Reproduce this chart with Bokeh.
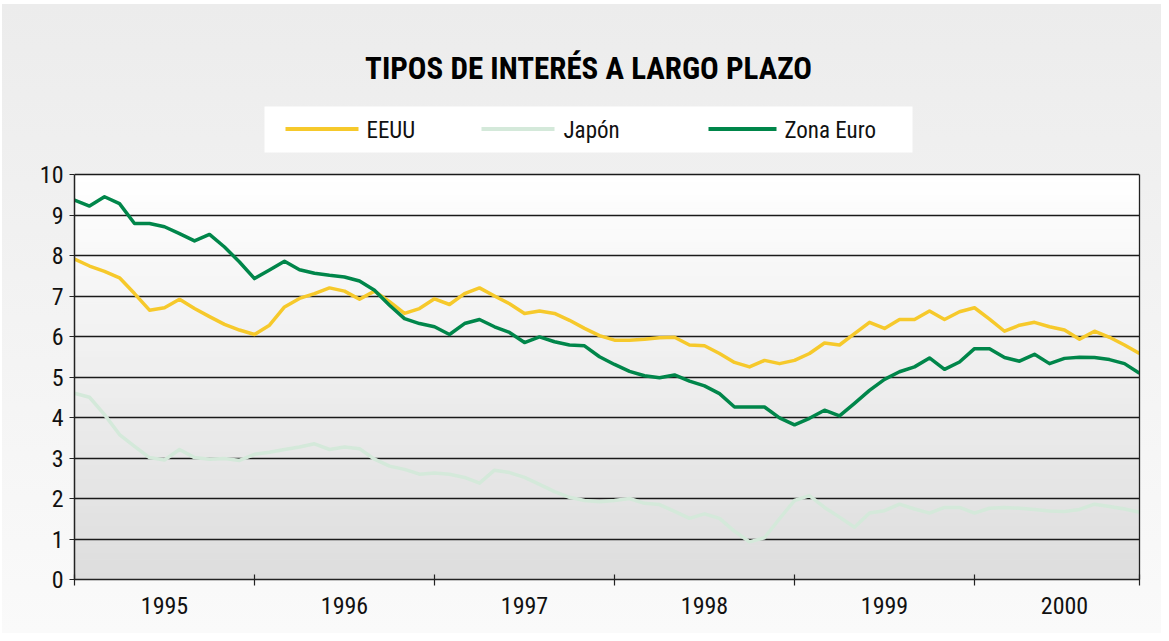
from bokeh.plotting import figure
from bokeh.models import FixedTicker, Range1d, LinearAxis
from bokeh.embed import file_html
from bokeh.resources import INLINE
from bokeh.core.properties import value

# ---------------- data (monthly, Jan 1995 - Dec 2000) ----------------
years = ["1995", "1996", "1997", "1998", "1999", "2000"]

eeuu = [7.91, 7.74, 7.61, 7.45, 7.06, 6.65, 6.71, 6.92, 6.69, 6.49, 6.30, 6.16,
        6.05, 6.28, 6.73, 6.94, 7.06, 7.20, 7.12, 6.92, 7.12, 6.86, 6.57, 6.69,
        6.93, 6.79, 7.06, 7.20, 7.00, 6.81, 6.57, 6.63, 6.57, 6.40, 6.20, 6.02,
        5.91, 5.91, 5.93, 5.97, 5.98, 5.79, 5.77, 5.58, 5.36, 5.25, 5.41, 5.33,
        5.41, 5.58, 5.84, 5.79, 6.07, 6.35, 6.20, 6.42, 6.42, 6.63, 6.42, 6.61,
        6.71, 6.43, 6.13, 6.28, 6.35, 6.24, 6.16, 5.93, 6.13, 5.98, 5.79, 5.58]

japon = [4.60, 4.50, 4.07, 3.58, 3.29, 3.01, 2.95, 3.21, 3.01, 2.97, 2.99, 2.94,
         3.09, 3.14, 3.21, 3.27, 3.35, 3.21, 3.27, 3.23, 2.97, 2.80, 2.72, 2.60,
         2.63, 2.60, 2.52, 2.38, 2.70, 2.64, 2.52, 2.35, 2.17, 2.03, 1.95, 1.92,
         1.95, 2.00, 1.88, 1.85, 1.68, 1.51, 1.62, 1.51, 1.19, 0.93, 1.03, 1.50,
         1.95, 2.07, 1.78, 1.54, 1.29, 1.64, 1.70, 1.86, 1.74, 1.64, 1.78, 1.78,
         1.64, 1.76, 1.78, 1.76, 1.73, 1.69, 1.68, 1.73, 1.86, 1.80, 1.74, 1.66]

zona_euro = [9.37, 9.22, 9.45, 9.28, 8.79, 8.79, 8.71, 8.54, 8.36, 8.52, 8.21, 7.84,
             7.43, 7.64, 7.86, 7.65, 7.56, 7.51, 7.47, 7.37, 7.14, 6.77, 6.44, 6.32,
             6.24, 6.05, 6.32, 6.42, 6.24, 6.10, 5.85, 5.99, 5.87, 5.79, 5.77, 5.50,
             5.31, 5.14, 5.03, 4.98, 5.05, 4.90, 4.78, 4.59, 4.26, 4.26, 4.26, 3.99,
             3.82, 3.98, 4.18, 4.04, 4.35, 4.67, 4.94, 5.13, 5.25, 5.47, 5.19, 5.37,
             5.70, 5.70, 5.48, 5.39, 5.56, 5.33, 5.46, 5.49, 5.48, 5.43, 5.33, 5.09]

series_names = ["EEUU", "Japón", "Zona Euro"]
series_values = [eeuu, japon, zona_euro]
series_colors = ["#f6c92b", "#d4e9da", "#00864a"]
y_ticks = [0, 1, 2, 3, 4, 5, 6, 7, 8, 9, 10]
title_text = "TIPOS DE INTERÉS A LARGO PLAZO"

months = list(range(len(eeuu)))
x_end = months[-1]
y_max = y_ticks[-1]
year_centers = [12 * k + 6 for k in range(len(years))]
year_bounds = [12 * k for k in range(len(years))] + [x_end]

FONT = "Roboto Condensed"
TITLE_FONT = "Roboto Condensed"

# ---------------- layout (pixels) ----------------
FIG_W, FIG_H = 1159, 629
MB_L, MB_R, MB_T, MB_B = 72, 22, 2, 54
frame_h = FIG_H - MB_T - MB_B           # whole frame (header + plot area)
plot_h = 405                            # pixel height of the 0..10 plot area
y_top = y_max * frame_h / plot_h        # header region lives above y=10
frame_w = FIG_W - MB_L - MB_R
px_per_x = frame_w / x_end


def hx(px):  # horizontal pixel offset from plot-area left -> x value
    return px / px_per_x


def hy(px):  # vertical pixel offset above the 0-line -> y value
    return px * y_max / plot_h


p = figure(width=FIG_W, height=FIG_H, output_backend="svg", toolbar_location=None,
           x_range=Range1d(0, x_end), y_range=Range1d(0, y_top),
           min_border_left=MB_L, min_border_right=MB_R, min_border_top=MB_T,
           min_border_bottom=MB_B)
p.border_fill_color = None
p.background_fill_color = None
p.outline_line_color = None
p.styles = {"background": "linear-gradient(180deg, #ececec 0%, #f3f3f3 50%, #fafafa 100%)",
            "margin-left": "2px", "margin-top": "4px"}

# vertical gradient of plot area (white top -> grey bottom)
nb = 60
bottoms = [y_max * k / nb for k in range(nb)]
tops = [y_max * (k + 1) / nb for k in range(nb)]
cols = []
for k in range(nb):
    g = int(round(221 + (255 - 221) * ((k + 0.5) / nb)))
    cols.append("#%02x%02x%02x" % (g, g, g))
p.quad(left=0, right=x_end, bottom=bottoms, top=tops, fill_color=cols,
       line_color=cols, line_width=1, level="image")

# grid
p.xgrid.visible = False
p.ygrid.ticker = FixedTicker(ticks=y_ticks)
p.ygrid.grid_line_color = "#1a1a1a"
p.ygrid.grid_line_width = 1.3

# y axis
ya = p.yaxis[0]
ya.ticker = FixedTicker(ticks=y_ticks)
ya.bounds = (0, y_max)
ya.major_tick_in = 0
ya.major_tick_out = 5
ya.minor_tick_in = 0
ya.minor_tick_out = 0
ya.major_tick_line_color = "#222222"
ya.axis_line_color = "#222222"
ya.axis_line_width = 1.5
ya.major_label_standoff = 6
ya.major_label_text_font = FONT
ya.major_label_text_font_size = "24px"
ya.major_label_text_color = "#111111"

# right border of plot area
ra = LinearAxis(ticker=FixedTicker(ticks=[]), bounds=(0, y_max),
                major_tick_in=0, major_tick_out=0, minor_tick_in=0, minor_tick_out=0,
                major_label_text_font_size="0px", axis_line_color="#222222",
                axis_line_width=1.3)
p.add_layout(ra, "right")

# x axis: year labels centred, boundary ticks as minor ticks
xa = p.xaxis[0]
xa.ticker = FixedTicker(ticks=year_centers, minor_ticks=year_bounds)
xa.major_label_overrides = {c: y for c, y in zip(year_centers, years)}
xa.major_tick_line_color = None
xa.major_tick_in = 0
xa.major_tick_out = 0
xa.minor_tick_in = 5
xa.minor_tick_out = 6
xa.minor_tick_line_color = "#222222"
xa.minor_tick_line_width = 1.2
xa.axis_line_color = "#222222"
xa.axis_line_width = 1.5
xa.major_label_standoff = 11
xa.major_label_text_font = FONT
xa.major_label_text_font_size = "24px"
xa.major_label_text_color = "#111111"

# data lines
for name, vals, col in zip(series_names, series_values, series_colors):
    p.line(months, vals, line_color=col, line_width=3.5, line_join="round")

# ---------------- header: title + legend (pixel offsets from plot-area corner) ----
p.text(x=[hx(514)], y=[hy(511.5)], text=[title_text], text_align="center",
       text_baseline="middle", text_font=value(TITLE_FONT),
       text_font_size="31px", text_font_style="bold", text_color="#000000")

# legend box
p.quad(left=[hx(190)], right=[hx(838)], bottom=[hy(427)], top=[hy(473)],
       fill_color="#ffffff", line_color=None)
leg_line_px = [(211, 284), (407, 480), (634, 702)]
leg_text_px = [292, 489, 710]
p.segment(x0=[hx(a) for a, b in leg_line_px], x1=[hx(b) for a, b in leg_line_px],
          y0=[hy(450.5)] * 3, y1=[hy(450.5)] * 3, line_color=series_colors,
          line_width=4)
p.text(x=[hx(t) for t in leg_text_px], y=[hy(449.5)] * 3, text=series_names,
       text_align="left", text_baseline="middle", text_font=value(FONT),
       text_font_size="23px", text_color="#111111")

open("out.html", "w").write(file_html(p, INLINE))
